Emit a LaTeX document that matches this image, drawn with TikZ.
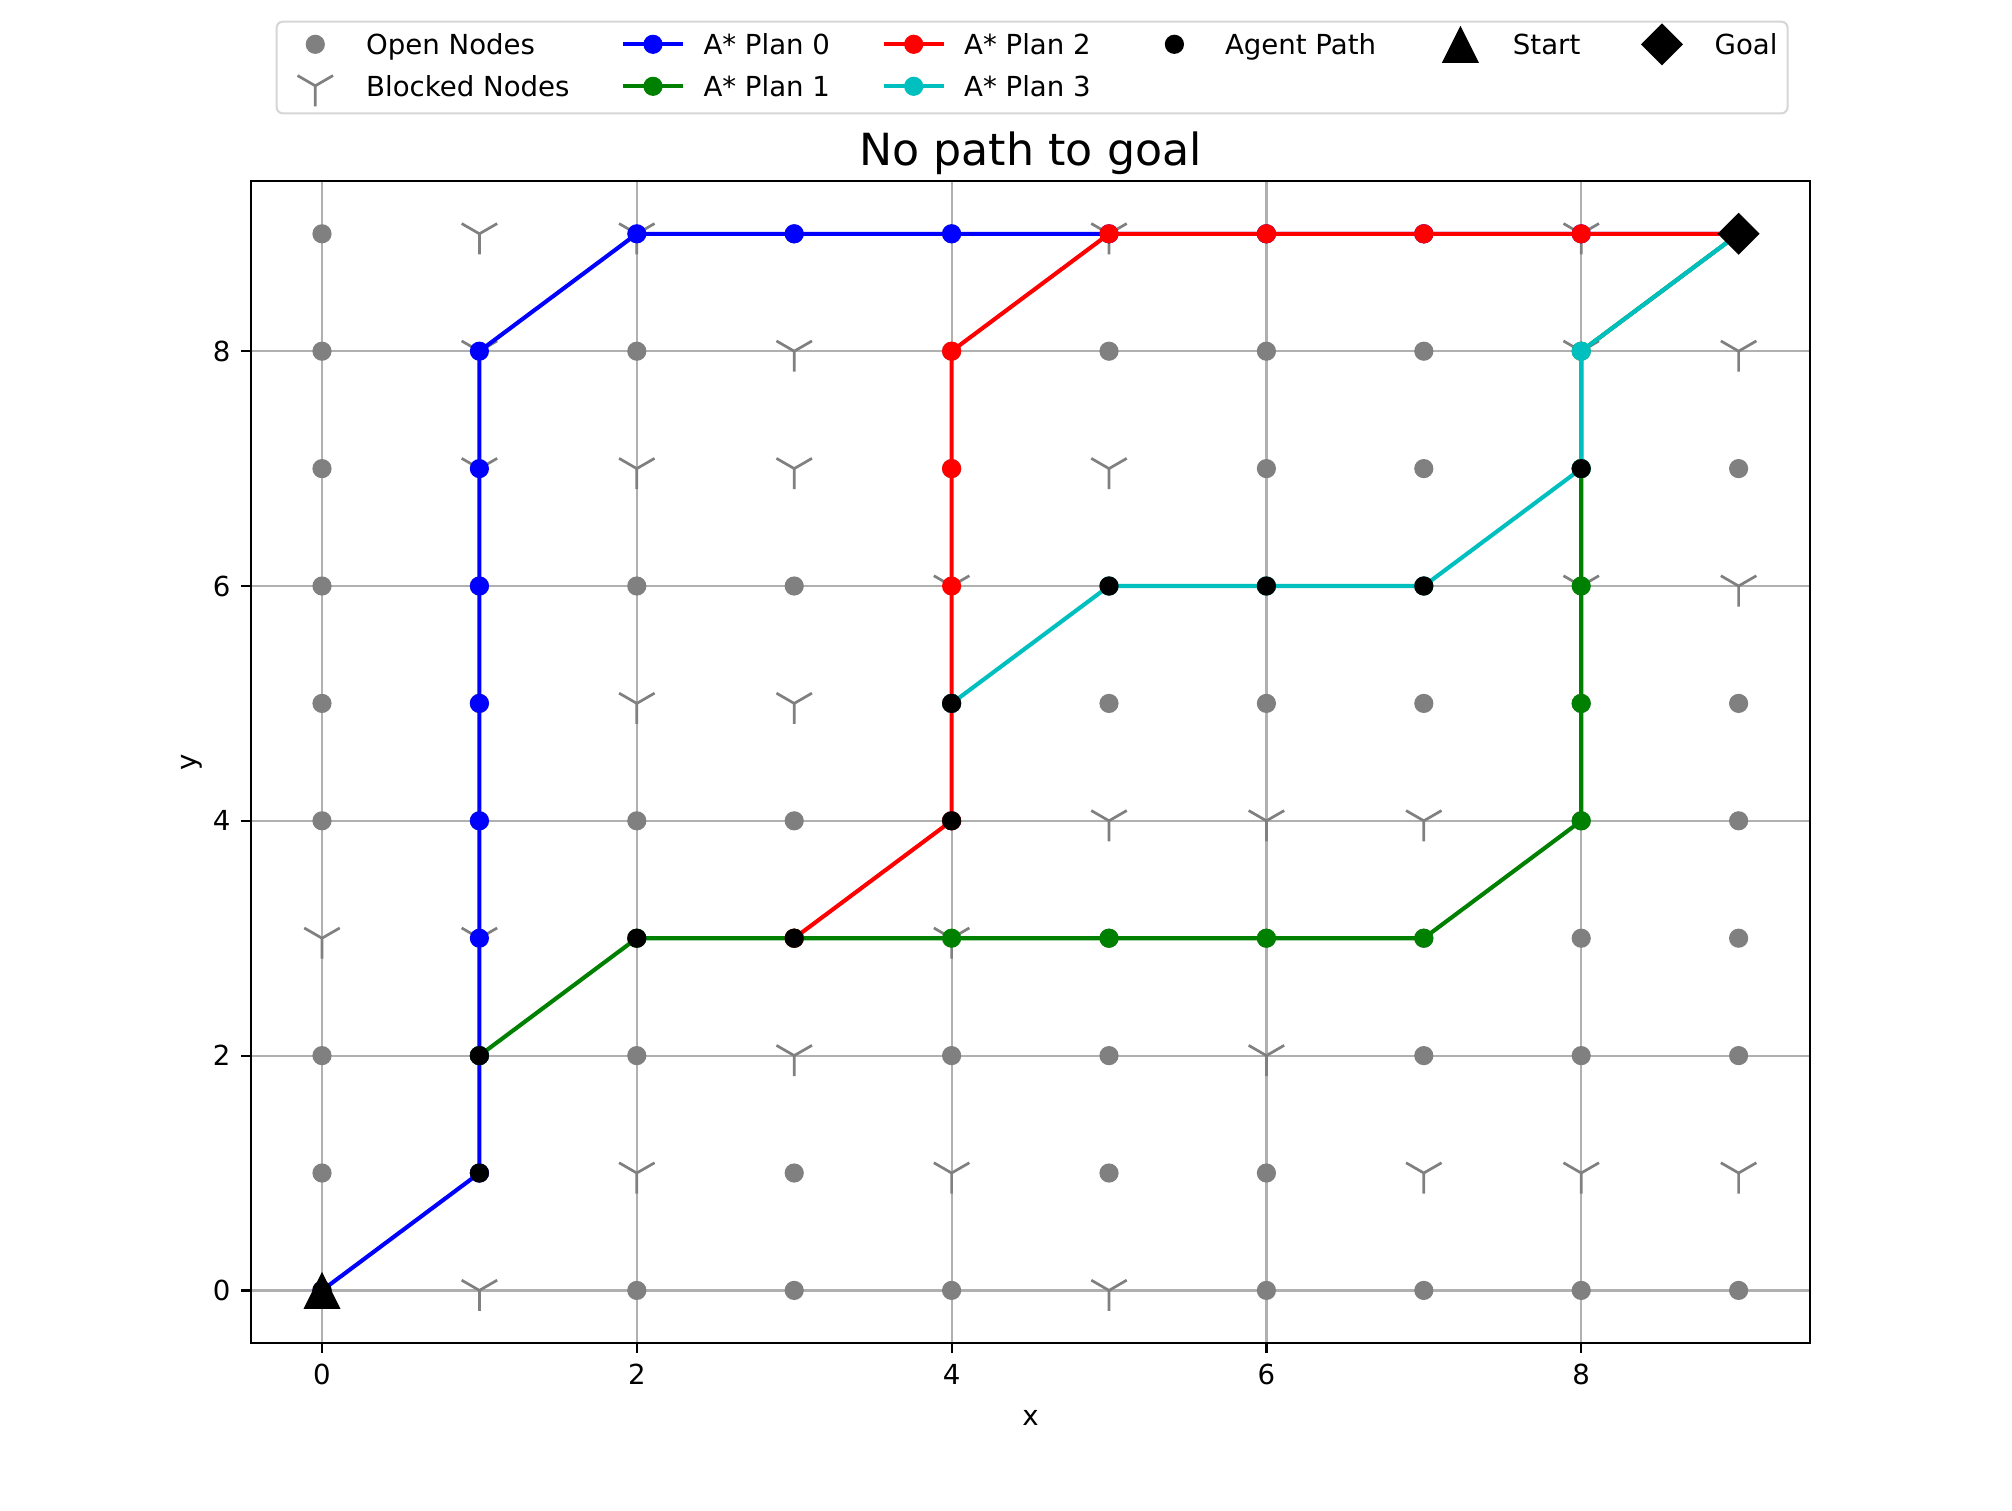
\documentclass[tikz,border=0pt]{standalone}
\usepackage{fontspec}
\setmainfont{DejaVu Sans}
\definecolor{gridgray}{HTML}{B0B0B0}
\definecolor{mgray}{HTML}{808080}
\definecolor{mcyan}{HTML}{00BFBF}
\definecolor{mgreen}{HTML}{008000}
\definecolor{mblue}{HTML}{0000FF}
\definecolor{mred}{HTML}{FF0000}
\definecolor{legedge}{HTML}{D6D6D6}
\tikzset{
  blockedY/.pic={\draw[mgray,line width=2.7pt] (0pt,0pt)--(0pt,-20.5pt) (0pt,0pt)--(-17.75pt,10.25pt) (0pt,0pt)--(17.75pt,10.25pt);},
  planline/.style={line width=4.1pt,line join=round},
  ticklab/.style={inner sep=0pt,font=\fontsize{27.6pt}{33pt}\selectfont},
  legtext/.style={inner sep=0pt,anchor=base west,font=\fontsize{27.6pt}{33pt}\selectfont},
}
\newcommand\dotr{9.6pt}
\begin{document}
\begin{tikzpicture}[x=1pt,y=1pt]
\useasboundingbox[fill=white] (0,0) rectangle (2012,-1510);
% ---------- data area ----------
\begin{scope}[shift={(322pt,-1290.4pt)},x=157.4pt,y=117.4pt]
  % grid
  \foreach \g in {0,2,4,6,8}{
    \draw[gridgray,line width=2.2pt] (\g,-0.45) -- (\g,9.45);
    \draw[gridgray,line width=2.2pt] (-0.45,\g) -- (9.45,\g);
  }
  % open nodes
  \foreach \x/\y in {0/9,3/9,4/9,6/9,7/9,9/9,
                     0/8,2/8,4/8,5/8,6/8,7/8,
                     0/7,4/7,6/7,7/7,8/7,9/7,
                     0/6,1/6,2/6,3/6,5/6,6/6,7/6,
                     0/5,1/5,4/5,5/5,6/5,7/5,8/5,9/5,
                     0/4,1/4,2/4,3/4,4/4,8/4,9/4,
                     2/3,3/3,5/3,6/3,7/3,8/3,9/3,
                     0/2,1/2,2/2,4/2,5/2,7/2,8/2,9/2,
                     0/1,1/1,3/1,5/1,6/1,
                     0/0,2/0,3/0,4/0,6/0,7/0,8/0,9/0}
    \fill[mgray] (\x,\y) circle[radius=\dotr];
  % blocked nodes
  \foreach \x/\y in {1/9,2/9,5/9,8/9,
                     1/8,3/8,8/8,9/8,
                     1/7,2/7,3/7,5/7,
                     4/6,8/6,9/6,
                     2/5,3/5,
                     5/4,6/4,7/4,
                     0/3,1/3,4/3,
                     3/2,6/2,
                     2/1,4/1,7/1,8/1,9/1,
                     1/0,5/0}
    \pic at (\x,\y) {blockedY};
  % A* Plan 0
  \draw[mblue,planline] (0,0)--(1,1)--(1,2)--(1,3)--(1,4)--(1,5)--(1,6)--(1,7)--(1,8)--(2,9)--(3,9)--(4,9)--(5,9)--(6,9)--(7,9)--(8,9)--(9,9);
  \foreach \x/\y in {0/0,1/1,1/2,1/3,1/4,1/5,1/6,1/7,1/8,2/9,3/9,4/9,5/9,6/9,7/9,8/9,9/9}
    \fill[mblue] (\x,\y) circle[radius=\dotr];
  % A* Plan 1
  \draw[mgreen,planline] (1,2)--(2,3)--(3,3)--(4,3)--(5,3)--(6,3)--(7,3)--(8,4)--(8,5)--(8,6)--(8,7)--(8,8)--(9,9);
  \foreach \x/\y in {1/2,2/3,3/3,4/3,5/3,6/3,7/3,8/4,8/5,8/6,8/7,8/8,9/9}
    \fill[mgreen] (\x,\y) circle[radius=\dotr];
  % A* Plan 2
  \draw[mred,planline] (3,3)--(4,4)--(4,5)--(4,6)--(4,7)--(4,8)--(5,9)--(6,9)--(7,9)--(8,9)--(9,9);
  \foreach \x/\y in {3/3,4/4,4/5,4/6,4/7,4/8,5/9,6/9,7/9,8/9,9/9}
    \fill[mred] (\x,\y) circle[radius=\dotr];
  % A* Plan 3
  \draw[mcyan,planline] (4,5)--(5,6)--(6,6)--(7,6)--(8,7)--(8,8)--(9,9);
  \foreach \x/\y in {4/5,5/6,6/6,7/6,8/7,8/8,9/9}
    \fill[mcyan] (\x,\y) circle[radius=\dotr];
  % Agent path
  \foreach \x/\y in {0/0,1/1,1/2,2/3,3/3,4/4,4/5,5/6,6/6,7/6,8/7}
    \fill[black] (\x,\y) circle[radius=\dotr];
  % Start
  \fill[black] (0,0) ++(0pt,18.5pt) -- ++(-18.5pt,-37pt) -- ++(37pt,0pt) -- cycle;
  % Goal
  \fill[black] (9,9) ++(0pt,21pt) -- ++(21pt,-21pt) -- ++(-21pt,-21pt) -- ++(-21pt,21pt) -- cycle;
  % ticks
  \foreach \g in {0,2,4,6,8}{
    \draw[black,line width=2.2pt] (\g,-0.45) -- ++(0pt,-9.7pt);
    \draw[black,line width=2.2pt] (-0.45,\g) -- ++(-9.7pt,0pt);
  }
\end{scope}
% tick labels
\foreach \g in {0,2,4,6,8}{
  \node[ticklab,anchor=base] at ({322+157.4*\g},-1384.5) {\g};
  \node[ticklab,anchor=east] at (230.7,{-1290.4+117.4*\g}) {\g};
}
% spines
\draw[black,line width=2.2pt] (251.2,-181) rectangle (1809.8,-1343.2);
% axis labels and title
\node[ticklab,anchor=base] at (1030.5,-1425) {x};
\node[ticklab,anchor=base,rotate=90] at (196,-762) {y};
\node[inner sep=0pt,anchor=base,font=\fontsize{44.3pt}{52pt}\selectfont] at (1030.5,-165) {No path to goal};
% ---------- legend ----------
\draw[legedge,fill=white,line width=2pt,rounded corners=6pt] (276.7,-21.7) rectangle (1787.5,-113.3);
\fill[mgray] (315.3,-44.3) circle[radius=\dotr];
\pic at (315.3,-85.8) {blockedY};
\node[legtext] at (366,-54) {Open Nodes};
\node[legtext] at (366,-96) {Blocked Nodes};
\draw[mblue,planline] (623.3,-44.3) -- (682.7,-44.3);
\fill[mblue] (653,-44.3) circle[radius=\dotr];
\node[legtext] at (703.3,-54) {A* Plan 0};
\draw[mgreen,planline] (623.3,-86.3) -- (682.7,-86.3);
\fill[mgreen] (653,-86.3) circle[radius=\dotr];
\node[legtext] at (703.3,-96) {A* Plan 1};
\draw[mred,planline] (883.6,-44.3) -- (943.7,-44.3);
\fill[mred] (913.7,-44.3) circle[radius=\dotr];
\node[legtext] at (964,-54) {A* Plan 2};
\draw[mcyan,planline] (883.6,-86.3) -- (943.7,-86.3);
\fill[mcyan] (913.7,-86.3) circle[radius=\dotr];
\node[legtext] at (964,-96) {A* Plan 3};
\fill[black] (1174.4,-44.3) circle[radius=\dotr];
\node[legtext] at (1224.8,-54) {Agent Path};
\fill[black] (1460.4,-44.3) ++(0,18.5) -- ++(-18.5,-37) -- ++(37,0) -- cycle;
\node[legtext] at (1512.7,-54) {Start};
\fill[black] (1662,-44.3) ++(0,21) -- ++(21,-21) -- ++(-21,-21) -- ++(-21,21) -- cycle;
\node[legtext] at (1714.4,-54) {Goal};
\end{tikzpicture}
\end{document}
